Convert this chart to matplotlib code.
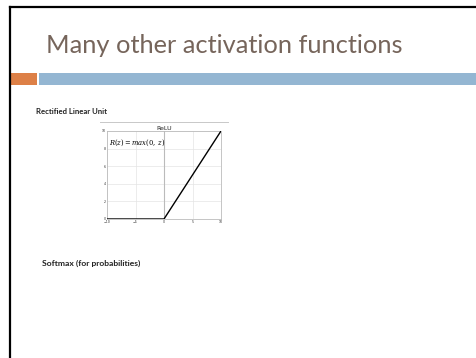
import numpy as np
import matplotlib
matplotlib.use("Agg")
import matplotlib.pyplot as plt
from matplotlib.lines import Line2D
from matplotlib.patches import Rectangle

# ReLU curve samples
z_values = [-10, 0, 10]
relu_values = [0, 0, 10]
x_ticks = [-10, -5, 0, 5, 10]
y_ticks = [0, 2, 4, 6, 8, 10]

W, H = 476, 358
fig = plt.figure(figsize=(W / 100, H / 100), dpi=100)
fig.patch.set_facecolor("white")

def fx(px):
    return px / W

def fy(py):
    return 1 - py / H

# slide frame (top and left edges)
fig.add_artist(Line2D([fx(10), fx(476)], [fy(7), fy(7)], color="black", lw=1.6))
fig.add_artist(Line2D([fx(10), fx(10)], [fy(7), fy(358)], color="black", lw=1.6))

# title
fig.text(fx(46), fy(53), "Many other activation functions", fontsize=18.3,
         color="#76655b", family="Lato", va="baseline", ha="left")

# accent bars under the title
fig.add_artist(Rectangle((fx(11), fy(85)), fx(37) - fx(11), fy(73) - fy(85),
                         transform=fig.transFigure, color="#dd8047", lw=0))
fig.add_artist(Rectangle((fx(39), fy(85)), fx(476) - fx(39), fy(73) - fy(85),
                         transform=fig.transFigure, color="#94b6d2", lw=0))

# body text
fig.text(fx(36), fy(111), "Rectified Linear Unit", fontsize=5.6, color="#222222",
         family="Lato", weight="bold", va="center", ha="left")
fig.text(fx(42), fy(263), "Softmax (for probabilities)", fontsize=6.1, color="#222222",
         family="Lato", weight="bold", va="center", ha="left")

# thin rule above the chart
fig.add_artist(Line2D([fx(100), fx(228)], [fy(122), fy(122)], color="#c8c8c8", lw=0.7))

# ReLU chart
ax = fig.add_axes([fx(107), fy(219), fx(221) - fx(107), fy(131) - fy(219)])
ax.plot(z_values, relu_values, color="black", lw=1.0, zorder=3)
ax.axvline(0, color="#bbbbbb", lw=0.8, zorder=2)
ax.set_xlim(-10, 10)
ax.set_ylim(0, 10)
ax.set_xticks(x_ticks)
ax.set_yticks(y_ticks)
ax.tick_params(labelsize=2.3, length=0, pad=1, colors="#333333")
ax.grid(True, color="#e4e4e4", lw=0.5)
for s in ax.spines.values():
    s.set_color("#bbbbbb")
    s.set_linewidth(0.6)
ax.set_title("ReLU", fontsize=4.5, pad=1, color="#222222")
ax.text(-9.6, 8.6, r"$R(z) = max(0,\ z)$", fontsize=4.9, va="center", ha="left",
        math_fontfamily="dejavuserif")

fig.savefig("out.png", dpi=100, facecolor="white")
